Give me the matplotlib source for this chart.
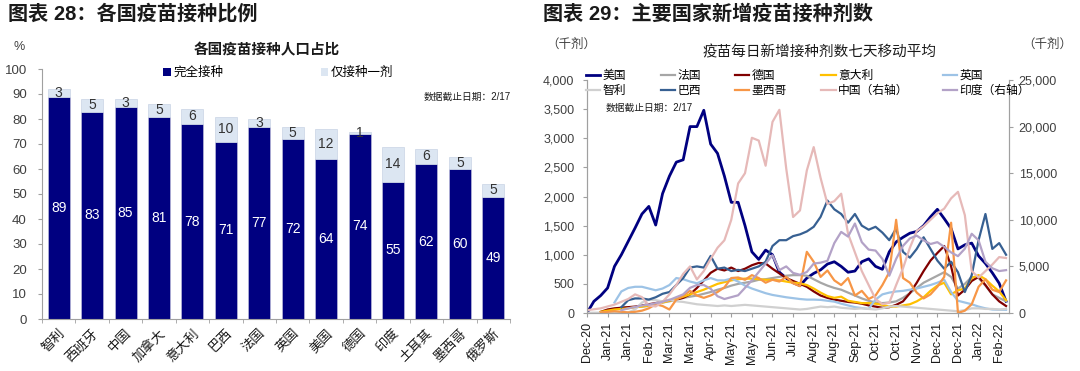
import matplotlib
matplotlib.use('Agg')
import matplotlib.pyplot as plt
import matplotlib.dates as mdates
from matplotlib.patches import Patch
from matplotlib.lines import Line2D
from matplotlib.ticker import FuncFormatter, MultipleLocator
import numpy as np
import pandas as pd

plt.rcParams['font.family'] = ['Liberation Sans', 'Noto Sans CJK SC']

# ---------------- data: left chart ----------------
countries = ['智利', '西班牙', '中国', '加拿大', '意大利', '巴西', '法国', '英国',
             '美国', '德国', '印度', '土耳其', '墨西哥', '俄罗斯']
full_vax = [89, 83, 85, 81, 78, 71, 77, 72, 64, 74, 55, 62, 60, 49]
one_dose = [3, 5, 3, 5, 6, 10, 3, 5, 12, 1, 14, 6, 5, 5]

# ---------------- data: right chart (weekly readings, thousand doses) ----------------
nan = np.nan
week_start = '2020-12-14'
n_weeks = 62
us = [0, 200, 300, 430, 800, 1000, 1230, 1460, 1700, 1830, 1510, 2050, 2350, 2590, 2630,
      3200, 3200, 3480, 2900, 2740, 2350, 1900, 1900, 1500, 1050, 920, 1080, 1000, 700, 600,
      520, 470, 600, 680, 740, 840, 880, 800, 700, 720, 880, 930, 800, 750, 1050, 1220,
      1300, 1370, 1400, 1500, 1650, 1780, 1620, 1450, 1100, 1170, 1200, 980, 850, 690, 510, 200]
france = [nan, nan, 5, 20, 60, 90, 100, 100, 110, 120, 150, 180, 200, 230, 260, 280, 300,
          330, 360, 400, 430, 470, 500, 520, 540, 570, 580, 600, 620, 640, 650, 650, 640, 580,
          520, 470, 430, 400, 350, 300, 250, 210, 180, 170, 180, 200, 260, 340, 430, 520, 580,
          640, 700, 620, 420, 500, 620, 600, 470, 320, 260, 200]
germany = [nan, nan, 20, 60, 80, 90, 100, 110, 130, 150, 170, 200, 220, 230, 260, 320, 430,
           560, 690, 760, 730, 780, 720, 760, 820, 860, 850, 760, 680, 600, 550, 500, 450, 370,
           300, 260, 230, 210, 190, 180, 160, 130, 110, 90, 100, 140, 200, 340, 520, 720, 900,
           1030, 1150, 800, 300, 400, 550, 620, 480, 320, 200, 120]
italy = [nan, nan, 20, 40, 60, 70, 80, 100, 110, 130, 150, 180, 210, 240, 280, 320, 360, 400,
         450, 500, 530, 560, 580, 590, 590, 580, 570, 570, 560, 540, 520, 510, 480, 420, 350,
         290, 260, 280, 210, 190, 170, 170, 160, 140, 110, 110, 130, 150, 200, 270, 380, 470,
         520, 320, 390, 420, 600, 650, 580, 470, 370, 220]
uk = [nan, nan, nan, nan, 180, 370, 430, 450, 450, 420, 390, 420, 480, 600, 580, 540, 510,
      560, 600, 560, 560, 590, 540, 470, 420, 380, 340, 310, 290, 270, 255, 240, 230, 230,
      225, 210, 195, 160, 130, 100, 85, 70, 230, 320, 350, 370, 380, 400, 420, 450, 480, 520,
      570, 360, 210, 180, 150, 110, 80, 60, 55, 55]
chile = [5, 5, 5, 5, 10, 10, 10, 60, 180, 230, 220, 200, 230, 200, 190, 170, 150, 140, 130,
         120, 130, 120, 130, 140, 130, 120, 110, 100, 90, 80, 70, 60, 70, 90, 110, 100, 110,
         90, 80, 70, 80, 70, 60, 80, 110, 120, 110, 100, 90, 80, 70, 60, 50, 40, 30, 50, 80,
         80, 70, 70, 60, 70]
brazil = [nan, nan, nan, nan, nan, 100, 220, 250, 250, 230, 270, 330, 360, 480, 600, 780,
          800, 780, 980, 760, 780, 720, 740, 720, 760, 800, 880, 1150, 1250, 1250, 1320, 1350,
          1400, 1480, 1650, 1930, 1780, 1700, 1550, 1700, 1500, 1430, 1480, 1380, 1250, 1450,
          1050, 950, 1100, 1300, 1100, 900, 760, 880, 700, 360, 650, 1250, 1700, 1100, 1200, 1000]
mexico = [nan, nan, 10, 20, 30, 20, 10, 20, 40, 80, 150, 120, 60, 230, 300, 380, 300, 260,
          300, 360, 440, 600, 610, 570, 650, 600, 520, 570, 540, 620, 510, 460, 1050, 880, 620,
          730, 560, 480, 600, 300, 380, 240, 300, 480, 700, 1600, 600, 520, 350, 250, 320, 450,
          620, 1550, 0, 40, 150, 450, 580, 400, 360, 560]
china = [300, 400, 500, 700, 900, 1200, 1500, 2000, 1700, 800, 700, 1200, 2000, 3000, 4200,
         5000, 3600, 4500, 5800, 7000, 7800, 10000, 13900, 15000, 18800, 18500, 15800, 20500,
         21800, 15500, 10300, 11000, 15300, 17800, 14500, 11700, 12000, 12800, 8500, 6500,
         4500, 3000, 1500, 950, 1100, 3000, 4800, 7000, 8800, 9300, 10000, 10700, 11200, 12300,
         13000, 10500, 4500, 3800, 4500, 5200, 6000, 5900]
india = [nan, nan, nan, nan, nan, 300, 500, 650, 800, 900, 1050, 1200, 1400, 1700, 2000,
         2700, 3000, 3000, 2600, 1800, 1500, 1700, 1900, 2700, 3500, 4400, 5300, 6200, 4600,
         5000, 4300, 4100, 4400, 5300, 5400, 5600, 7500, 8700, 8200, 9600, 7600, 6800, 6700,
         5800, 4000, 5800, 7200, 8000, 8300, 7800, 7400, 7600, 7100, 6500, 6100, 6900, 8500,
         7800, 5500, 4800, 4500, 4600]

left_series = [('美国', us, '#000080', 2.0), ('法国', france, '#A6A6A6', 1.6),
               ('德国', germany, '#800000', 1.6), ('意大利', italy, '#FFC000', 1.6),
               ('英国', uk, '#9DC3E6', 1.6), ('智利', chile, '#D0D0D0', 1.6),
               ('巴西', brazil, '#376092', 1.6), ('墨西哥', mexico, '#F79646', 1.6)]
right_series = [('中国（右轴）', china, '#E6B9B8', 1.6), ('印度（右轴）', india, '#B3A2C7', 1.6)]

# ---------------- figure ----------------
W, H = 1080, 371
fig = plt.figure(figsize=(W / 100, H / 100), dpi=100)


def fx(px):
    return px / W


def fy(py):
    return 1 - py / H


TXT = '#404040'
SPINE = '#A0A0A0'

# titles
fig.text(fx(8), fy(14), '图表 28：各国疫苗接种比例', fontsize=14.5, fontweight='bold',
         va='center', ha='left', color='#1a1a1a')
fig.text(fx(543), fy(14), '图表 29：主要国家新增疫苗接种剂数', fontsize=14.5, fontweight='bold',
         va='center', ha='left', color='#1a1a1a')

# ---------------- left chart ----------------
ax1 = fig.add_axes([fx(42), fy(319), fx(510 - 42), (319 - 69) / H])
x = np.arange(len(countries))
ax1.bar(x, full_vax, width=0.66, color='#000080', edgecolor='#c8c8e0', linewidth=0.4)
ax1.bar(x, one_dose, width=0.66, bottom=full_vax, color='#DCE6F2', edgecolor='#c0cce0',
        linewidth=0.4)
for i in range(len(countries)):
    ax1.text(x[i], full_vax[i] / 2, str(full_vax[i]), color='white', ha='center', va='center',
             fontsize=10)
    ax1.text(x[i], full_vax[i] + one_dose[i] / 2, str(one_dose[i]), color='#333333',
             ha='center', va='center', fontsize=10)
ax1.set_xlim(-0.5, len(countries) - 0.5)
ax1.set_ylim(0, 100)
ax1.yaxis.set_major_locator(MultipleLocator(10))
ax1.set_xticks(x)
ax1.set_xticklabels(countries, rotation=45, ha='right', rotation_mode='anchor', fontsize=9.5,
                    color='#1a1a1a')
ax1.set_xticks(np.arange(-0.5, len(countries), 1), minor=True)
ax1.tick_params(axis='x', which='major', length=0, pad=6)
ax1.tick_params(axis='x', which='minor', length=3, color=SPINE)
ax1.tick_params(axis='y', length=3, color=SPINE, labelsize=9.5, labelcolor=TXT, pad=8)
for s in ['top', 'right']:
    ax1.spines[s].set_visible(False)
for s in ['left', 'bottom']:
    ax1.spines[s].set_color(SPINE)
    ax1.spines[s].set_linewidth(0.8)

fig.text(fx(13), fy(47), '%', fontsize=9, color=TXT, va='center')
fig.text(fx(267), fy(50), '各国疫苗接种人口占比', fontsize=10.5, fontweight='bold', ha='center',
         va='center', color='#1a1a1a')
fig.legend(handles=[Patch(facecolor='#000080'), Patch(facecolor='#DCE6F2')],
           labels=['完全接种', '仅接种一剂'], ncol=2, loc='center left',
           bbox_to_anchor=(fx(163), fy(73)), frameon=False, fontsize=9,
           handlelength=0.6, handleheight=0.6, handletextpad=0.2, columnspacing=7.8,
           borderpad=0, borderaxespad=0)
fig.text(fx(424), fy(97), '数据截止日期：2/17', fontsize=7, color='#1a1a1a', va='center')

# ---------------- right chart ----------------
dates = pd.date_range(week_start, periods=n_weeks, freq='7D')
ax2 = fig.add_axes([fx(587), fy(313), fx(1009 - 587), (313 - 80) / H])
ax3 = ax2.twinx()
handles = {}
for name, vals, col, lw in left_series:
    ln, = ax2.plot(dates, vals, color=col, lw=lw, solid_joinstyle='round')
    handles[name] = ln
for name, vals, col, lw in right_series:
    ln, = ax3.plot(dates, vals, color=col, lw=lw, solid_joinstyle='round')
    handles[name] = ln
# draw China/India beneath the main lines like the reference? keep twin on top
ax2.set_ylim(0, 4000)
ax3.set_ylim(0, 25000)
ax2.yaxis.set_major_locator(MultipleLocator(500))
ax3.yaxis.set_major_locator(MultipleLocator(5000))
comma = FuncFormatter(lambda v, p: f'{int(v):,}')
ax2.yaxis.set_major_formatter(comma)
ax3.yaxis.set_major_formatter(comma)
ax2.set_xlim(pd.Timestamp('2020-12-14'), pd.Timestamp('2022-02-17'))
ticks = pd.date_range('2020-12-14', '2022-02-07', freq='21D')
ax2.set_xticks(ticks)
ax2.xaxis.set_major_formatter(mdates.DateFormatter('%b-%y'))
ax2.tick_params(axis='x', rotation=90, labelsize=9, labelcolor='#1a1a1a', length=3,
                color=SPINE)
ax2.tick_params(axis='y', labelsize=9, labelcolor=TXT, length=3, color=SPINE, pad=6)
ax3.tick_params(axis='y', labelsize=9, labelcolor=TXT, length=3, color=SPINE, pad=4)
for a in (ax2, ax3):
    a.spines['top'].set_visible(False)
    for s in ['left', 'right', 'bottom']:
        a.spines[s].set_color(SPINE)
        a.spines[s].set_linewidth(0.8)

fig.text(fx(571), fy(45), '（千剂）', fontsize=9, color=TXT, ha='center', va='center')
fig.text(fx(1047), fy(45), '（千剂）', fontsize=9, color=TXT, ha='center', va='center')
fig.text(fx(820), fy(52), '疫苗每日新增接种剂数七天移动平均', fontsize=10.5, ha='center',
         va='center', color='#1a1a1a')
order = ['美国', '智利', '法国', '巴西', '德国', '墨西哥', '意大利', '中国（右轴）', '英国', '印度（右轴）']
fig.legend([handles[k] for k in order], order, ncol=5, loc='lower left',
           bbox_to_anchor=(fx(586), fy(97), fx(1030 - 586), 32 / H), mode='expand',
           frameon=False, fontsize=8.5, handlelength=1.2, handletextpad=0.2,
           borderpad=0, borderaxespad=0, labelspacing=0.25, columnspacing=0.5)
fig.text(fx(606), fy(108), '数据截止日期：2/17', fontsize=7, color='#1a1a1a', va='center')

fig.savefig('out.png', dpi=100)
